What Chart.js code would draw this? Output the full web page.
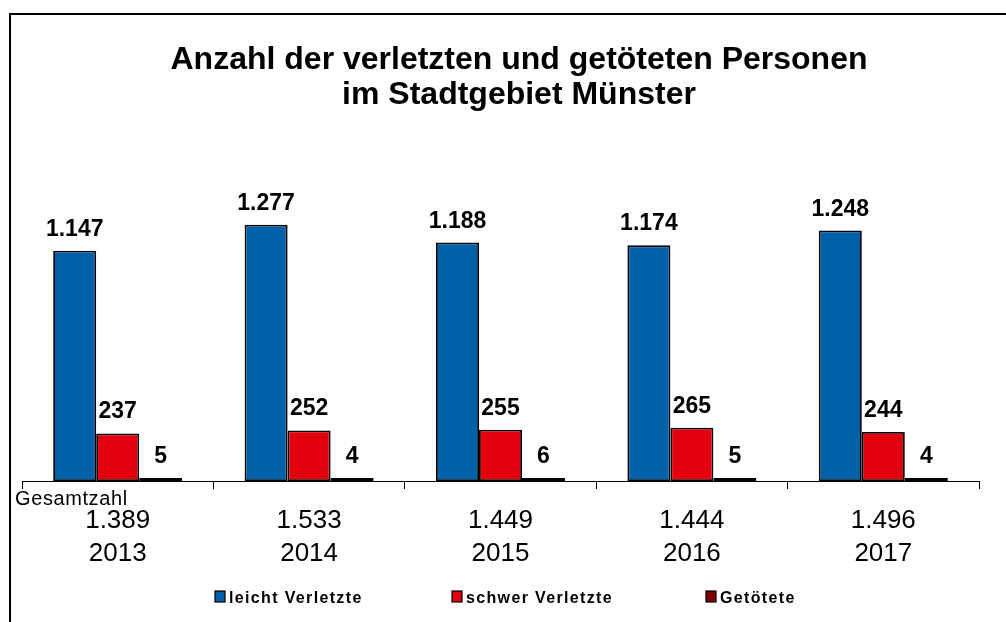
<!DOCTYPE html>
<html>
<head>
<meta charset="utf-8">
<script src="https://cdn.jsdelivr.net/npm/chart.js@4"></script>
<style>
  html, body { margin: 0; padding: 0; background: #fff; }
  #c { display: block; }
</style>
</head>
<body>
<canvas id="c" width="1006" height="622"></canvas>
<script>
const years = ['2013', '2014', '2015', '2016', '2017'];
const totals = [1389, 1533, 1449, 1444, 1496];
const leichtVerletzte = [1147, 1277, 1188, 1174, 1248];
const schwerVerletzte = [237, 252, 255, 265, 244];
const getoetete = [5, 4, 6, 5, 4];
const seriesNames = ['leicht Verletzte', 'schwer Verletzte', 'Getötete'];
const titleLines = ['Anzahl der verletzten und getöteten Personen', 'im Stadtgebiet Münster'];
const totalLabel = 'Gesamtzahl';

const fmt = v => v.toString().replace(/\B(?=(\d{3})+(?!\d))/g, '.');
const FONT = '"Liberation Sans", Arial, sans-serif';

const decorPlugin = {
  id: 'decor',
  beforeDraw(chart) {
    const ctx = chart.ctx;
    ctx.save();
    ctx.fillStyle = '#fff';
    ctx.fillRect(0, 0, chart.width, chart.height);
    ctx.strokeStyle = '#000';
    ctx.lineWidth = 2;
    ctx.beginPath();
    ctx.moveTo(10, 622);
    ctx.lineTo(10, 14);
    ctx.lineTo(1006, 14);
    ctx.stroke();
    ctx.restore();
  },
  afterDraw(chart) {
    const ctx = chart.ctx;
    ctx.save();
    // title
    ctx.fillStyle = '#000';
    ctx.textAlign = 'center';
    ctx.textBaseline = 'alphabetic';
    ctx.font = 'bold 32px ' + FONT;
    ctx.fillText(titleLines[0], 519, 69);
    ctx.fillText(titleLines[1], 519, 104);
    // Gesamtzahl
    ctx.textAlign = 'left';
    ctx.font = '20px ' + FONT;
    try { ctx.letterSpacing = '0.6px'; } catch (e) {}
    ctx.fillText(totalLabel, 15, 505);
    // legend
    const lx = [215, 452, 706];
    ctx.font = 'bold 16px ' + FONT;
    try { ctx.letterSpacing = '1.35px'; } catch (e) {}
    ctx.textBaseline = 'middle';
    chart.data.datasets.forEach((ds, i) => {
      ctx.fillStyle = ds.legendColor;
      ctx.fillRect(lx[i], 591, 10, 11);
      ctx.strokeStyle = '#000';
      ctx.lineWidth = 1.2;
      ctx.strokeRect(lx[i], 591, 10, 11);
      ctx.fillStyle = '#000';
      ctx.fillText(ds.label, lx[i] + 14, 599);
    });
    ctx.restore();
  },
  afterDatasetsDraw(chart) {
    const ctx = chart.ctx;
    ctx.save();
    ctx.fillStyle = '#000';
    ctx.font = 'bold 23px ' + FONT;
    ctx.textAlign = 'center';
    ctx.textBaseline = 'alphabetic';
    chart.data.datasets.forEach((ds, di) => {
      const meta = chart.getDatasetMeta(di);
      meta.data.forEach((el, i) => {
        ctx.fillText(fmt(ds.data[i]), el.x, el.y - 15);
      });
    });
    ctx.restore();
  }
};

new Chart(document.getElementById('c'), {
  type: 'bar',
  data: {
    labels: years.map((y, i) => [fmt(totals[i]), y]),
    datasets: [
      { label: seriesNames[0], data: leichtVerletzte, backgroundColor: '#0060A8', legendColor: '#0060A8' },
      { label: seriesNames[1], data: schwerVerletzte, backgroundColor: '#E2000F', legendColor: '#E2000F' },
      { label: seriesNames[2], data: getoetete, backgroundColor: '#800000', legendColor: '#800000', minBarLength: 3 }
    ].map(d => Object.assign(d, {
      borderColor: '#000', borderWidth: 1.8, borderSkipped: false,
      categoryPercentage: 0.674, barPercentage: 1.0
    }))
  },
  options: {
    responsive: false,
    devicePixelRatio: 1,
    animation: false,
    layout: { padding: { left: 22, right: 27, top: 200, bottom: 0 } },
    plugins: { legend: { display: false }, title: { display: false }, tooltip: { enabled: false } },
    scales: {
      y: { display: false, min: 0, max: 1400 },
      x: {
        grid: { display: true, drawOnChartArea: false, drawTicks: true, tickLength: 8, color: '#000', offset: true, lineWidth: 1 },
        border: { display: true, color: '#000', width: 1 },
        ticks: { color: '#000', font: { family: FONT, size: 26, lineHeight: 1.27 }, padding: 15, maxRotation: 0 },
        afterFit(scale) { scale.height = 141; }
      }
    }
  },
  plugins: [decorPlugin]
});
</script>
</body>
</html>
